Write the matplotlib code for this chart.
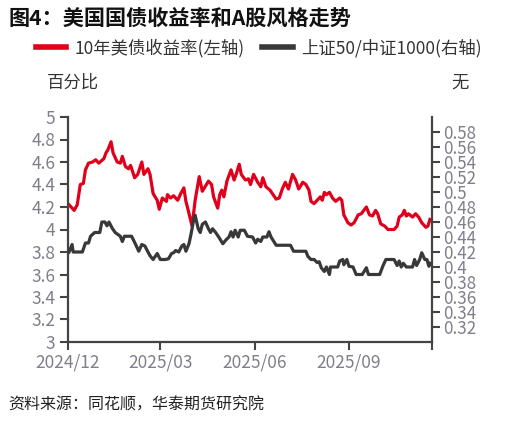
import pandas as pd
import matplotlib
matplotlib.use("Agg")
import matplotlib.pyplot as plt
import matplotlib.dates as mdates
from matplotlib.lines import Line2D

plt.rcParams['font.family'] = ['Noto Sans CJK SC', 'DejaVu Sans']

# 10年美债收益率 (左轴, %)
red_dates = [
    "2024-12-02", "2024-12-07", "2024-12-10", "2024-12-13", "2024-12-16", "2024-12-18",
    "2024-12-21", "2024-12-25", "2024-12-28", "2024-12-31", "2025-01-05", "2025-01-07",
    "2025-01-09", "2025-01-12", "2025-01-14", "2025-01-18", "2025-01-21", "2025-01-23",
    "2025-01-26", "2025-01-29", "2025-01-31", "2025-02-04", "2025-02-07", "2025-02-11",
    "2025-02-13", "2025-02-17", "2025-02-19", "2025-02-22", "2025-02-26", "2025-02-28",
    "2025-03-03", "2025-03-07", "2025-03-08", "2025-03-11", "2025-03-14", "2025-03-18",
    "2025-03-21", "2025-03-24", "2025-03-26", "2025-03-28", "2025-04-01", "2025-04-04",
    "2025-04-08", "2025-04-11", "2025-04-15", "2025-04-17", "2025-04-20", "2025-04-22",
    "2025-04-26", "2025-04-28", "2025-04-30", "2025-05-02", "2025-05-05", "2025-05-09",
    "2025-05-12", "2025-05-14", "2025-05-17", "2025-05-19", "2025-05-23", "2025-05-26",
    "2025-05-28", "2025-05-31", "2025-06-04", "2025-06-07", "2025-06-09", "2025-06-12",
    "2025-06-16", "2025-06-19", "2025-06-22", "2025-06-25", "2025-06-28", "2025-07-01",
    "2025-07-04", "2025-07-08", "2025-07-11", "2025-07-14", "2025-07-18", "2025-07-21",
    "2025-07-24", "2025-07-26", "2025-07-29", "2025-08-01", "2025-08-04", "2025-08-06",
    "2025-08-08", "2025-08-10", "2025-08-13", "2025-08-16", "2025-08-19", "2025-08-23",
    "2025-08-25", "2025-08-27", "2025-08-31", "2025-09-03", "2025-09-06", "2025-09-10",
    "2025-09-13", "2025-09-18", "2025-09-21", "2025-09-24", "2025-09-27", "2025-09-29",
    "2025-10-02", "2025-10-06", "2025-10-09", "2025-10-12", "2025-10-15", "2025-10-18",
    "2025-10-20", "2025-10-23", "2025-10-25", "2025-10-27", "2025-10-29", "2025-11-02",
    "2025-11-05", "2025-11-08", "2025-11-11", "2025-11-15", "2025-11-17", "2025-11-19",
]
red_vals = [
    4.22, 4.17, 4.22, 4.40, 4.41, 4.53,
    4.59, 4.60, 4.62, 4.59, 4.63, 4.68,
    4.71, 4.78, 4.68, 4.60, 4.59, 4.65,
    4.56, 4.54, 4.57, 4.46, 4.49, 4.60,
    4.49, 4.54, 4.49, 4.32, 4.26, 4.18,
    4.28, 4.25, 4.31, 4.28, 4.30, 4.26,
    4.32, 4.37, 4.25, 4.18, 4.03, 4.26,
    4.47, 4.34, 4.40, 4.43, 4.40, 4.29,
    4.19, 4.31, 4.35, 4.29, 4.43, 4.53,
    4.44, 4.49, 4.58, 4.49, 4.44, 4.45,
    4.40, 4.49, 4.42, 4.38, 4.46, 4.38,
    4.35, 4.31, 4.27, 4.28, 4.36, 4.42,
    4.36, 4.49, 4.44, 4.36, 4.42, 4.40,
    4.35, 4.25, 4.23, 4.26, 4.29, 4.26,
    4.33, 4.31, 4.33, 4.28, 4.25, 4.28,
    4.26, 4.13, 4.06, 4.04, 4.06, 4.13,
    4.14, 4.20, 4.13, 4.12, 4.17, 4.14,
    4.05, 4.03, 4.00, 4.00, 4.00, 4.03,
    4.11, 4.13, 4.17, 4.12, 4.14, 4.11,
    4.14, 4.11, 4.06, 4.02, 4.03, 4.09,
]

# 上证50/中证1000 (右轴)
black_dates = [
    "2024-12-02", "2024-12-05", "2024-12-06", "2024-12-15", "2024-12-18", "2024-12-21",
    "2024-12-23", "2024-12-27", "2025-01-01", "2025-01-03", "2025-01-06", "2025-01-08",
    "2025-01-10", "2025-01-13", "2025-01-16", "2025-01-21", "2025-01-23", "2025-01-25",
    "2025-02-01", "2025-02-05", "2025-02-08", "2025-02-11", "2025-02-14", "2025-02-17",
    "2025-02-19", "2025-02-22", "2025-02-26", "2025-03-01", "2025-03-06", "2025-03-09",
    "2025-03-12", "2025-03-14", "2025-03-16", "2025-03-19", "2025-03-22", "2025-03-24",
    "2025-03-26", "2025-03-29", "2025-03-31", "2025-04-03", "2025-04-04", "2025-04-07",
    "2025-04-09", "2025-04-11", "2025-04-14", "2025-04-17", "2025-04-19", "2025-04-21",
    "2025-04-24", "2025-04-27", "2025-05-01", "2025-05-04", "2025-05-07", "2025-05-09",
    "2025-05-11", "2025-05-13", "2025-05-16", "2025-05-18", "2025-05-22", "2025-05-25",
    "2025-05-30", "2025-06-02", "2025-06-04", "2025-06-07", "2025-06-09", "2025-06-13",
    "2025-06-15", "2025-06-17", "2025-06-22", "2025-07-06", "2025-07-09", "2025-07-21",
    "2025-07-23", "2025-07-26", "2025-07-29", "2025-08-01", "2025-08-03", "2025-08-05",
    "2025-08-08", "2025-08-10", "2025-08-13", "2025-08-14", "2025-08-21", "2025-08-23",
    "2025-08-26", "2025-08-27", "2025-08-30", "2025-09-01", "2025-09-05", "2025-09-08",
    "2025-09-14", "2025-09-18", "2025-09-20", "2025-10-01", "2025-10-04", "2025-10-07",
    "2025-10-15", "2025-10-18", "2025-10-20", "2025-10-22", "2025-10-24", "2025-10-27",
    "2025-11-02", "2025-11-04", "2025-11-06", "2025-11-09", "2025-11-11", "2025-11-14",
    "2025-11-16", "2025-11-18", "2025-11-19",
]
black_vals = [
    0.420, 0.430, 0.420, 0.420, 0.432, 0.432,
    0.441, 0.446, 0.446, 0.460, 0.460, 0.455,
    0.460, 0.452, 0.446, 0.441, 0.434, 0.441,
    0.441, 0.430, 0.421, 0.430, 0.428, 0.420,
    0.415, 0.410, 0.418, 0.410, 0.410, 0.411,
    0.418, 0.419, 0.422, 0.420, 0.428, 0.430,
    0.421, 0.431, 0.444, 0.466, 0.469, 0.451,
    0.446, 0.457, 0.460, 0.451, 0.446, 0.451,
    0.446, 0.440, 0.431, 0.436, 0.440, 0.447,
    0.440, 0.449, 0.440, 0.449, 0.449, 0.441,
    0.440, 0.432, 0.437, 0.434, 0.440, 0.440,
    0.447, 0.440, 0.429, 0.429, 0.421, 0.421,
    0.414, 0.410, 0.410, 0.406, 0.407, 0.399,
    0.394, 0.400, 0.390, 0.400, 0.400, 0.408,
    0.410, 0.403, 0.410, 0.401, 0.400, 0.390,
    0.390, 0.399, 0.390, 0.390, 0.401, 0.410,
    0.410, 0.402, 0.408, 0.400, 0.405, 0.400,
    0.400, 0.410, 0.402, 0.410, 0.419, 0.410,
    0.410, 0.401, 0.405,
]

left_ticks = [3.0, 3.2, 3.4, 3.6, 3.8, 4.0, 4.2, 4.4, 4.6, 4.8, 5.0]
right_ticks = [0.32, 0.34, 0.36, 0.38, 0.40, 0.42, 0.44, 0.46, 0.48, 0.50, 0.52, 0.54, 0.56, 0.58]
x_ticks = ["2024-12-01", "2025-03-01", "2025-06-01", "2025-09-01"]
x_start, x_end = "2024-12-01", "2025-11-21"

red = "#e0001b"
dark = "#383838"
axis_col = "#444444"
tick_col = "#7f7f8c"

fig = plt.figure(figsize=(5.19, 4.26), dpi=100)
ax = fig.add_axes([68 / 519, 1 - 342 / 426, (432 - 68) / 519, (342 - 117) / 426])
ax2 = ax.twinx()

ax.plot(pd.to_datetime(red_dates), red_vals, color=red, linewidth=2.3, solid_joinstyle="round")
ax2.plot(pd.to_datetime(black_dates), black_vals, color=dark, linewidth=2.3, solid_joinstyle="round")

ax.set_xlim(pd.Timestamp(x_start), pd.Timestamp(x_end))
ax.set_ylim(3, 5)
ax2.set_ylim(0.3, 0.6)
ax.set_yticks(left_ticks)
ax.set_yticklabels([f"{v:g}" for v in left_ticks])
ax2.set_yticks(right_ticks)
ax2.set_yticklabels([f"{v:g}" for v in right_ticks])
ax.set_xticks(pd.to_datetime(x_ticks))
ax.xaxis.set_major_formatter(mdates.DateFormatter("%Y/%m"))
ax.set_xticks([pd.Timestamp(x_end)], minor=True)

for a in (ax, ax2):
    a.spines["top"].set_visible(False)
    for s in ("left", "right", "bottom"):
        a.spines[s].set_color(axis_col)
        a.spines[s].set_linewidth(1.6)
    a.tick_params(axis="both", which="both", direction="out", length=6, width=1.5,
                  color=axis_col, labelcolor=tick_col, labelsize=12.5, pad=3)
ax.spines["right"].set_visible(False)
ax2.spines["left"].set_visible(False)
ax2.spines["bottom"].set_visible(False)
ax2.tick_params(axis="y", labelsize=12.2, pad=2)
ax.tick_params(axis="x", pad=2)
ax.patch.set_visible(False)

fig.text(8 / 519, 1 - 18 / 426, "图4：美国国债收益率和A股风格走势", fontsize=15.2,
         fontweight="bold", color="#111111", va="center", ha="left")

handles = [Line2D([], [], color=red, linewidth=4),
           Line2D([], [], color=dark, linewidth=4)]
fig.legend(handles, ["10年美债收益率(左轴)", "上证50/中证1000(右轴)"], ncol=2,
           loc="center left", bbox_to_anchor=(20 / 519, 1 - 48 / 426), frameon=False,
           fontsize=12.5, handlelength=1.75, handletextpad=0.5, columnspacing=1.0,
           labelcolor="#333333")

fig.text(73 / 519, 1 - 83 / 426, "百分比", fontsize=12.5, color="#333333",
         ha="center", va="center")
fig.text(460 / 519, 1 - 83 / 426, "无", fontsize=12.5, color="#333333",
         ha="center", va="center")
fig.text(8 / 519, 1 - 405 / 426, "资料来源：同花顺，华泰期货研究院", fontsize=11.5,
         style="italic", color="#222222", ha="left", va="center")

fig.savefig("out.png", dpi=100)
